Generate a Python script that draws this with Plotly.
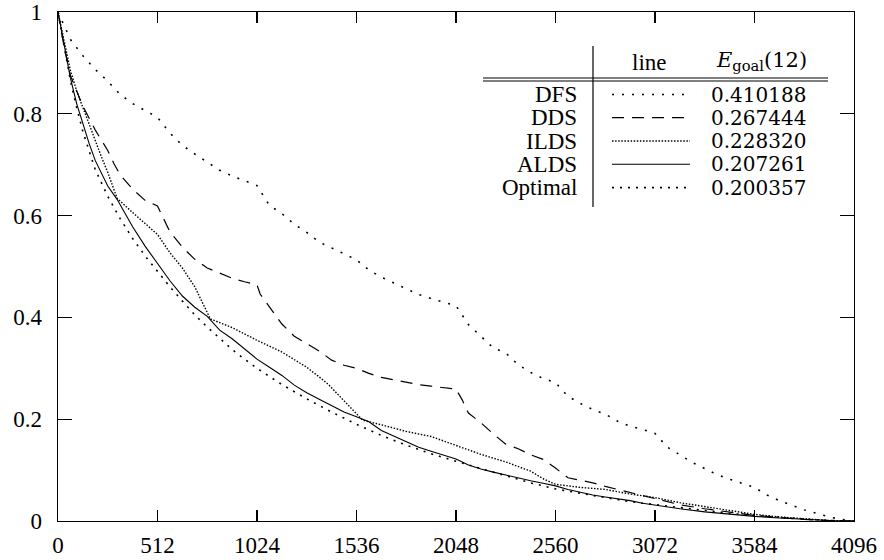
import plotly.graph_objects as go

# ---------------- data ----------------
DFS_x = [0, 64, 128, 192, 256, 320, 384, 448, 512, 576, 640, 704, 768, 832, 896, 960, 1024,
         1088, 1152, 1216, 1280, 1344, 1408, 1472, 1536, 1600, 1664, 1728, 1792, 1856, 1920, 1984, 2048,
         2112, 2176, 2240, 2304, 2368, 2432, 2496, 2560, 2624, 2688, 2752, 2816, 2880, 2944, 3008, 3072,
         3136, 3200, 3264, 3328, 3392, 3456, 3520, 3584, 3648, 3712, 3776, 3840, 3904, 3968, 4032, 4096]
DFS_y = [1.0, 0.946, 0.914, 0.887, 0.864, 0.838, 0.82, 0.806, 0.793, 0.762, 0.738, 0.721, 0.705, 0.689, 0.678, 0.668, 0.659,
         0.620, 0.604, 0.583, 0.567, 0.548, 0.537, 0.525, 0.513, 0.493, 0.479, 0.468, 0.457, 0.445, 0.437, 0.430, 0.423,
         0.386, 0.362, 0.340, 0.330, 0.307, 0.292, 0.280, 0.272, 0.245, 0.231, 0.219, 0.210, 0.196, 0.186, 0.180, 0.172,
         0.145, 0.130, 0.115, 0.103, 0.091, 0.082, 0.074, 0.066, 0.051, 0.040, 0.031, 0.022, 0.015, 0.008, 0.003, 0.0]

DDS_x = [0, 32, 64, 128, 192, 256, 288, 320, 384, 448, 512, 544, 576, 640, 704, 768, 832, 896, 960, 1024,
         1040, 1088, 1152, 1216, 1280, 1344, 1408, 1472, 1536, 1600, 1664, 1728, 1792, 1856, 1920, 1984, 2048,
         2080, 2112, 2176, 2240, 2304, 2368, 2432, 2496, 2560, 2624, 2688, 2752, 2816, 2880, 2944, 3008, 3072,
         3200, 3328, 3456, 3584, 3712, 3840, 3968, 4096]
DDS_y = [1.0, 0.93, 0.875, 0.815, 0.768, 0.728, 0.702, 0.68, 0.652, 0.630, 0.619, 0.593, 0.568, 0.538, 0.514, 0.497, 0.487, 0.477, 0.470, 0.464,
         0.446, 0.420, 0.387, 0.363, 0.348, 0.334, 0.316, 0.306, 0.300, 0.290, 0.282, 0.277, 0.272, 0.268, 0.265, 0.262, 0.259,
         0.238, 0.212, 0.193, 0.171, 0.151, 0.142, 0.130, 0.121, 0.104, 0.085, 0.080, 0.075, 0.068, 0.062, 0.056, 0.050, 0.043,
         0.032, 0.024, 0.017, 0.011, 0.007, 0.003, 0.001, 0.0]

ILDS_x = [0, 32, 64, 96, 128, 160, 192, 224, 256, 288, 304, 384, 448, 512, 576, 640, 704, 768, 784, 896,
          1024, 1152, 1280, 1344, 1392, 1472, 1536, 1568, 1664, 1792, 1920, 2048, 2176, 2304, 2432, 2496, 2560,
          2688, 2816, 2944, 3072, 3200, 3328, 3456, 3584, 3712, 3840, 3968, 4096]
ILDS_y = [1.0, 0.945, 0.885, 0.845, 0.812, 0.783, 0.75, 0.715, 0.685, 0.652, 0.634, 0.606, 0.584, 0.563, 0.527, 0.497, 0.460, 0.410, 0.397, 0.380,
          0.355, 0.332, 0.302, 0.283, 0.268, 0.236, 0.212, 0.198, 0.189, 0.176, 0.166, 0.149, 0.131, 0.116, 0.098, 0.083, 0.072,
          0.066, 0.062, 0.053, 0.046, 0.036, 0.028, 0.020, 0.013, 0.008, 0.004, 0.001, 0.0]

ALDS_x = [0, 32, 64, 96, 128, 160, 192, 256, 304, 384, 448, 512, 576, 640, 704, 768, 832, 896, 960, 1024,
          1088, 1152, 1216, 1280, 1344, 1408, 1472, 1536, 1600, 1664, 1728, 1792, 1856, 1920, 1984, 2048,
          2112, 2176, 2240, 2304, 2368, 2432, 2496, 2560, 2624, 2688, 2752, 2816, 2880, 2944, 3008, 3072,
          3200, 3328, 3456, 3584, 3712, 3840, 3968, 4096]
ALDS_y = [1.0, 0.935, 0.87, 0.82, 0.78, 0.742, 0.708, 0.658, 0.632, 0.578, 0.540, 0.505, 0.472, 0.442, 0.420, 0.402, 0.375, 0.358, 0.338, 0.318,
          0.302, 0.286, 0.267, 0.252, 0.239, 0.226, 0.214, 0.205, 0.195, 0.178, 0.167, 0.156, 0.145, 0.137, 0.130, 0.122,
          0.110, 0.102, 0.096, 0.090, 0.084, 0.079, 0.074, 0.069, 0.062, 0.056, 0.051, 0.047, 0.044, 0.040, 0.035, 0.031,
          0.024, 0.018, 0.013, 0.009, 0.006, 0.003, 0.001, 0.0]

OPT_x = [0, 32, 64, 96, 128, 192, 256, 320, 384, 448, 512, 576, 640, 704, 768, 832, 896, 960, 1024, 1152,
         1280, 1408, 1536, 1664, 1792, 1920, 2048, 2176, 2304, 2432, 2560, 2688, 2816, 2944, 3072, 3200,
         3328, 3456, 3584, 3712, 3840, 3968, 4096]
OPT_y = [1.0, 0.93, 0.865, 0.812, 0.765, 0.69, 0.638, 0.594, 0.555, 0.521, 0.49, 0.46, 0.432, 0.405, 0.381, 0.358, 0.337, 0.318, 0.300, 0.268,
         0.240, 0.214, 0.190, 0.168, 0.149, 0.132, 0.117, 0.103, 0.089, 0.075, 0.063, 0.054, 0.046, 0.038, 0.032, 0.026,
         0.020, 0.015, 0.011, 0.007, 0.004, 0.001, 0.0]

names = ["DFS", "DDS", "ILDS", "ALDS", "Optimal"]
egoal = ["0.410188", "0.267444", "0.228320", "0.207261", "0.200357"]

x_ticks = [0, 512, 1024, 1536, 2048, 2560, 3072, 3584, 4096]
x_ticktext = ["0", "512", "1024", "1536", "2048", "2560", "3072", "3584", "4096"]
y_ticks = [0, 0.2, 0.4, 0.6, 0.8, 1.0]
y_ticktext = ["0", "0.2", "0.4", "0.6", "0.8", "1"]

# ---------------- styles ----------------
styles = {
    "DFS": dict(width=1.6, dash="2px,8px"),
    "DDS": dict(width=1.2, dash="12px,8px"),
    "ILDS": dict(width=1.4, dash="1.5px,1.6px"),
    "ALDS": dict(width=1.1, dash="solid"),
    "Optimal": dict(width=1.6, dash="2px,6px"),
}
series = {
    "DFS": (DFS_x, DFS_y),
    "DDS": (DDS_x, DDS_y),
    "ILDS": (ILDS_x, ILDS_y),
    "ALDS": (ALDS_x, ALDS_y),
    "Optimal": (OPT_x, OPT_y),
}

fig = go.Figure()
for n in names:
    xs, ys = series[n]
    st = styles[n]
    fig.add_trace(go.Scatter(x=xs, y=ys, mode="lines", name=n, showlegend=False, hoverinfo="skip",
                             line=dict(color="black", width=st["width"], dash=st["dash"])))

# plot area in pixels
L, R, T, B = 58, 854, 12, 521
W, H = R - L, B - T


def px(x):
    return (x - L) / W


def py(y):
    return (B - y) / H


serif = "Liberation Serif"
mathfont = "DejaVu Serif"
shapes = []
ann = []

# table lines
shapes.append(dict(type="line", xref="paper", yref="paper", x0=px(593), x1=px(593), y0=py(46), y1=py(207),
                   line=dict(color="black", width=1.2)))
for yy in (78, 81):
    shapes.append(dict(type="line", xref="paper", yref="paper", x0=px(483), x1=px(828), y0=py(yy), y1=py(yy),
                       line=dict(color="black", width=1.2)))

ann.append(dict(xref="paper", yref="paper", x=px(649), y=py(62), text="line", showarrow=False,
                xanchor="center", yanchor="middle", font=dict(family=serif, size=23, color="black")))
ann.append(dict(xref="paper", yref="paper", x=px(761), y=py(61), text="<i>E</i><sub>goal</sub>(12)", showarrow=False,
                xanchor="center", yanchor="middle", font=dict(family=mathfont, size=21, color="black")))

row_y = [94.5, 117.7, 141, 164.3, 187.6]
for n, v, ry in zip(names, egoal, row_y):
    ann.append(dict(xref="paper", yref="paper", x=px(579), y=py(ry), text=n, showarrow=False,
                    xanchor="right", yanchor="middle", font=dict(family=serif, size=23, color="black")))
    ann.append(dict(xref="paper", yref="paper", x=px(709), y=py(ry), text=v, showarrow=False,
                    xanchor="left", yanchor="middle", font=dict(family=mathfont, size=20, color="black")))
    st = styles[n]
    shapes.append(dict(type="line", xref="paper", yref="paper", x0=px(612), x1=px(690), y0=py(ry), y1=py(ry),
                       line=dict(color="black", width=st["width"], dash=st["dash"])))

fig.update_layout(
    width=884, height=560,
    margin=dict(l=L, r=884 - R, t=T, b=560 - B, pad=0, autoexpand=False),
    paper_bgcolor="white", plot_bgcolor="white",
    shapes=shapes, annotations=ann,
    font=dict(family=serif, size=23, color="black"),
)
fig.update_xaxes(range=[0, 4096], tickvals=x_ticks, ticktext=x_ticktext, showgrid=False, zeroline=False,
                 showline=True, linecolor="black", linewidth=1.3, mirror="ticks", automargin=False,
                 ticks="inside", ticklen=11, tickwidth=1.2, tickcolor="black", ticklabelstandoff=3,
                 tickfont=dict(family=serif, size=23, color="black"), fixedrange=True)
fig.update_yaxes(range=[0, 1], tickvals=y_ticks, ticktext=y_ticktext, showgrid=False, zeroline=False,
                 showline=True, linecolor="black", linewidth=1.3, mirror="ticks", automargin=False,
                 ticks="inside", ticklen=14, tickwidth=1.2, tickcolor="black", ticklabelstandoff=10,
                 tickfont=dict(family=serif, size=23, color="black"), fixedrange=True)

fig.write_html("out.html", config={"displayModeBar": False, "staticPlot": True},
               post_script="document.body.style.margin='0px';document.body.style.overflow='hidden';")
